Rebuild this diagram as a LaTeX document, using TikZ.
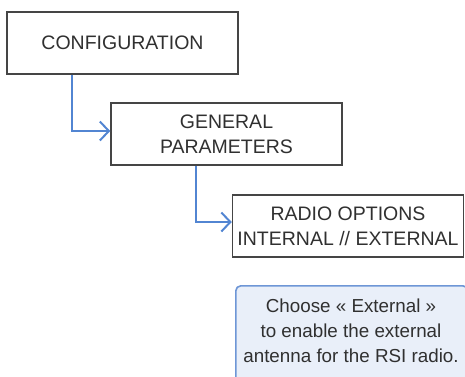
\documentclass[tikz,border=0pt]{standalone}
\usepackage{fontspec}
\setmainfont{Liberation Sans}
\usetikzlibrary{arrows.meta}
\definecolor{txt}{HTML}{303030}
\definecolor{edge}{HTML}{454545}
\definecolor{link}{HTML}{5285D2}
\definecolor{notefill}{HTML}{E9EFF9}
\definecolor{noteline}{HTML}{6E96D6}
\begin{document}
\begin{tikzpicture}[x=1pt,y=-1pt,
  box/.style={draw=edge,line width=1.5pt,fill=white,minimum width=231pt,minimum height=62pt,
    inner sep=0pt,align=center,text=txt,font=\fontsize{19.5}{25}\selectfont},
  conn/.style={draw=link,line width=2.2pt,-{Straight Barb[length=9pt,width=19pt,line width=2pt]}},
  notebox/.style={draw=noteline,line width=1.6pt,fill=notefill,rounded corners=5pt,
    minimum width=232pt,minimum height=105pt,inner sep=0pt},
  notetext/.style={align=center,text=txt,inner sep=0pt,font=\fontsize{18.8}{25}\selectfont}]
\useasboundingbox (0,0) rectangle (465,376);
\node[box] (conf) at (122.5,43) {CONFIGURATION};
\node[box] (gen) at (226.5,134) {GENERAL\\PARAMETERS};
\node[box] (radio) at (348,226) {RADIO OPTIONS\\INTERNAL // EXTERNAL};
\node[notebox,anchor=north west] (note) at (235,285) {};
\node[notetext,anchor=base] (notetxt) at (351,362) {Choose « External »\\to enable the external\\antenna for the RSI radio.};
\draw[conn] ([xshift=66pt]conf.south west) |- ([yshift=3pt]gen.west);
\draw[conn] ([xshift=86pt]gen.south west) |- ([yshift=4pt]radio.west);
\end{tikzpicture}
\end{document}
